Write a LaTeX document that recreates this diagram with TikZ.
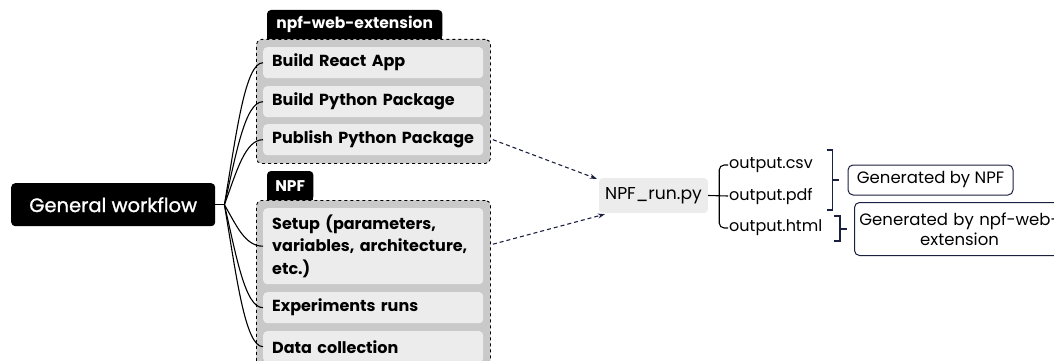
\documentclass[tikz,border=0pt]{standalone}
\usepackage{fontspec}
\setmainfont{Poppins}
\newfontfamily\medfont[FakeBold=1.2]{Poppins}
\usetikzlibrary{arrows.meta,calc,backgrounds}
\definecolor{navy}{HTML}{1B2040}
\definecolor{grpfill}{HTML}{C9C9C9}
\definecolor{taskfill}{HTML}{ECECEC}
\tikzset{
  conn/.style={line width=1.1pt, black},
  rootbox/.style={fill=black, text=white, rounded corners=4pt, inner sep=0pt,
    font=\fontsize{19.5}{22}\medfont},
  tabbox/.style={text=white, inner sep=0pt,
    font=\fontsize{15.5}{18}\selectfont\bfseries},
  tabfill/.style={fill=black, rounded corners=4pt},
  grpbox/.style={fill=grpfill, draw=black, dashed, line width=0.9pt, rounded corners=5pt, inner sep=0pt},
  taskbox/.style={fill=taskfill, rounded corners=4pt, inner xsep=9pt, inner ysep=0pt,
    text width=202pt, align=left, font=\fontsize{16}{22.5}\selectfont\bfseries},
  runbox/.style={fill=taskfill, rounded corners=4pt, inner sep=0pt,
    minimum width=109pt, minimum height=35pt, font=\fontsize{17.2}{20}\selectfont},
  outtxt/.style={inner sep=1pt, font=\fontsize{16}{19}\selectfont},
  genbox/.style={draw=navy, fill=white, line width=1pt, rounded corners=5pt, inner sep=0pt,
    align=center, font=\fontsize{16.5}{20}\selectfont},
  brk/.style={line width=1.1pt, navy},
  flow/.style={line width=1.1pt, navy, dash pattern=on 4pt off 3pt, -{Stealth[length=7pt,width=5pt]}},
}
\begin{document}
\begin{tikzpicture}[x=1pt,y=-1pt]
\useasboundingbox (0,0) rectangle (1054,361);
\clip (0,0) rectangle (1054,361);

% root
\node[rootbox, anchor=north west, minimum width=204pt, minimum height=43pt] (gw) at (11,183) {General workflow};
\coordinate (fork) at ($(gw.east)+(9,0)$);

% tabs
\node[tabbox, anchor=north west, minimum width=175pt, minimum height=29pt] (t1) at (267,10) {npf-web-extension};
\node[tabbox, anchor=north west, minimum width=46pt, minimum height=29pt] (t2) at (267,171) {NPF};
\begin{scope}[on background layer]
  \fill[tabfill] (t1.north west) rectangle (t1.south east);
  \fill[black] (t1.west) rectangle (t1.south east);
  \fill[tabfill] (t2.north west) rectangle (t2.south east);
  \fill[black] (t2.west) rectangle (t2.south east);
\end{scope}

% groups
\node[grpbox, anchor=north west, minimum width=234pt, minimum height=124pt] (g1) at (256,39) {};
\node[grpbox, anchor=north west, minimum width=234pt, minimum height=190pt] (g2) at (256,200) {};

% tasks
\node[taskbox, anchor=north west, minimum height=31pt] (c1) at (263,47) {Build React App};
\node[taskbox, anchor=north west, minimum height=31pt] (c2) at (263,86) {Build Python Package};
\node[taskbox, anchor=north west, minimum height=31pt] (c3) at (263,124) {Publish Python Package};
\node[taskbox, anchor=north west, minimum height=76pt] (c4) at (263,208) {Setup (parameters,\\variables, architecture,\\etc.)};
\node[taskbox, anchor=north west, minimum height=31pt] (c5) at (263,292) {Experiments runs};
\node[taskbox, anchor=north west, minimum height=31pt] (c6) at (263,331) {Data collection};

% connectors from root
\draw[conn] (gw.east) -- (fork);
\foreach \c in {c1,c2,c3,c4,c5,c6}{
  \draw[conn] (fork) .. controls ($(fork)!0.5!(fork|-\c.west)+(12,0)$) and ($(\c.west)+(-18,0)$) .. (\c.west);
}

% NPF_run
\node[runbox] (run) at (653.5,195.5) {NPF\_run.py};
\draw[flow] ($(c3.east -| g1.east)+(2,0)$) -- ($(run.north west)+(-2,1)$);
\draw[flow] ($(c4.east -| g2.east)+(2,-2)$) -- ($(run.south west)+(6,1)$);

% outputs
\node[outtxt, anchor=west] (csv) at (728,165) {output.csv};
\node[outtxt, anchor=west] (pdf) at (728,196) {output.pdf};
\node[outtxt, anchor=west] (html) at (728,228) {output.html};
\coordinate (bx) at ($(run.east)+(11,0)$);
\draw[conn, rounded corners=5pt] (csv.west) -| (bx) |- (html.west);
\draw[conn] (run.east) -- (pdf.west);

% generated boxes
\node[genbox, minimum width=165pt, minimum height=30pt] (gen1) at (930.5,180) {Generated by NPF};
\node[genbox, anchor=north west, minimum width=210pt, minimum height=53pt, text width=200pt] (gen2) at (854,202) {\makebox[0pt][c]{Generated by npf-web-}\\extension};

% brackets
\draw[brk] ($(gen1.west)+(-21,-30)$) -- ++(6,0) -- ++(0,60) -- ++(-6,0);
\draw[brk] ($(gen1.west)+(-15,0)$) -- ++(6,0);
\draw[brk] ($(gen2.west)+(-20,-13)$) -- ++(6,0) -- ++(0,25) -- ++(-6,0);
\draw[brk] ($(gen2.west)+(-14,0)$) -- ++(7,0);
\end{tikzpicture}
\end{document}
